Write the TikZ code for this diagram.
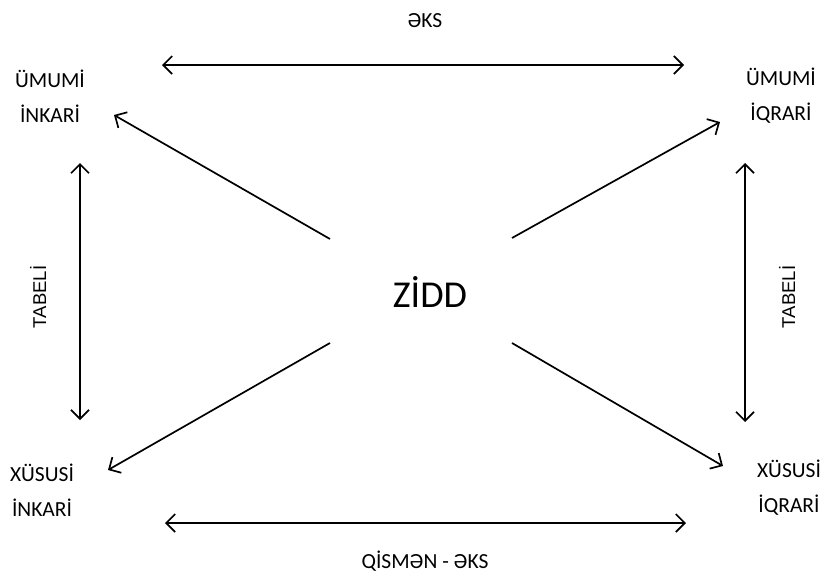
\documentclass[tikz,border=0pt]{standalone}
\usepackage{fontspec}
\setmainfont{Carlito}
\newfontfamily\tabfont{Liberation Sans}
\usetikzlibrary{arrows.meta}
\begin{document}
\begin{tikzpicture}[x=1pt,y=-1pt,
  lbl/.style={font=\fontsize{21.5}{35}\selectfont, align=center, inner sep=0pt, text=black},
  tab/.style={font=\tabfont\fontsize{18.5}{20}\selectfont, rotate=90, inner sep=0pt, text=black},
  arr/.style={line width=1.7pt, {Straight Barb[length=9pt,width=18pt]}-{Straight Barb[length=9pt,width=18pt]}},
  sarr/.style={line width=1.7pt, -{Straight Barb[length=9pt,width=18pt]}}]
\useasboundingbox (0,0) rectangle (825,576);
\node[lbl] (eks) at (425,21) {ƏKS};
\node[lbl] (qeks) at (425,561) {QİSMƏN - ƏKS};
\node[lbl] (ui) at (50,96) {ÜMUMİ\\İNKARİ};
\node[lbl] (uq) at (781,96) {ÜMUMİ\\İQRARİ};
\node[lbl] (xi) at (42,490) {XÜSUSİ\\İNKARİ};
\node[lbl] (xq) at (789,488) {XÜSUSİ\\İQRARİ};
\node[font=\fontsize{38}{40}\selectfont, inner sep=0pt, text=black] (zidd) at (430,292) {ZİDD};
\node[tab] (tl) at (38,297) {TABELİ};
\node[tab] (tr) at (787,297) {TABELİ};
% arrow endpoints
\coordinate (t1) at (162,65); \coordinate (t2) at (684,65);
\coordinate (b1) at (165,523); \coordinate (b2) at (686,523);
\coordinate (l1) at (80,163); \coordinate (l2) at (80,420);
\coordinate (r1) at (745,163); \coordinate (r2) at (745,422);
\coordinate (c1) at (330,239); \coordinate (c2) at (512,238);
\coordinate (c3) at (330,343); \coordinate (c4) at (512,343);
\coordinate (d1) at (114,115); \coordinate (d2) at (720,122);
\coordinate (d3) at (108,470); \coordinate (d4) at (723,466);
\draw[arr] (t1) -- (t2);
\draw[arr] (b1) -- (b2);
\draw[arr] (l1) -- (l2);
\draw[arr] (r1) -- (r2);
\draw[sarr] (c1) -- (d1);
\draw[sarr] (c2) -- (d2);
\draw[sarr] (c3) -- (d3);
\draw[sarr] (c4) -- (d4);
\end{tikzpicture}
\end{document}
